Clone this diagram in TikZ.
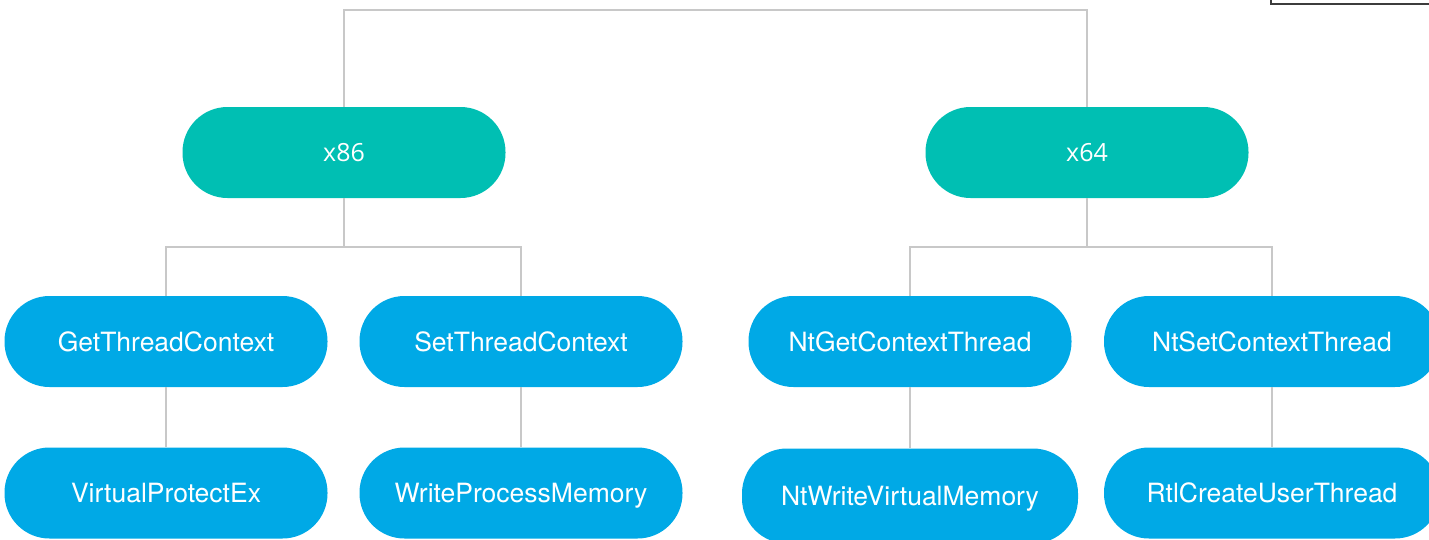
\documentclass[tikz,border=0pt]{standalone}
\usepackage{fontspec}
\newfontfamily\pillfont{TeX Gyre Heros}
\newfontfamily\archfont{Open Sans}
\definecolor{archteal}{RGB}{0,191,179}
\definecolor{callblue}{RGB}{0,169,230}
\definecolor{linkgrey}{RGB}{200,200,200}
\definecolor{framegrey}{RGB}{60,60,60}
\tikzset{
  pill/.style={rectangle, rounded corners=45pt, minimum width=323pt, minimum height=91pt,
    inner sep=0pt, text=white, text depth=0pt},
  archpill/.style={pill, fill=archteal, text height=18pt, font=\archfont\fontsize{25}{30}\selectfont},
  callpill/.style={pill, fill=callblue, text height=19pt, font=\pillfont\fontsize{26.5}{31}\selectfont},
  link/.style={draw=linkgrey, line width=2pt},
}
\begin{document}
\begin{tikzpicture}[x=1pt, y=-1pt]
  \useasboundingbox (0,0) rectangle (1429,539);
  \clip (0,0) rectangle (1429,539);

  % frame corner at the top right
  \draw[framegrey, line width=1.5pt] (1271,-10) rectangle (1445,4);

  % architecture nodes
  \node[archpill] (x86) at (344,152.5) {x86};
  \node[archpill] (x64) at (1087,152.5) {x64};

  % API calls, first row
  \node[callpill] (gtc) at (166,341.5) {GetThreadContext};
  \node[callpill] (stc) at (521,341.5) {SetThreadContext};
  \node[callpill] (ngc) at (910,341.5) {NtGetContextThread};
  \node[callpill, minimum width=336pt] (nsc) at (1272,341.5) {NtSetContextThread};

  % API calls, second row
  \node[callpill] (vpe) at (166,493) {VirtualProtectEx};
  \node[callpill] (wpm) at (521,493) {WriteProcessMemory};
  \node[callpill, minimum width=336pt, minimum height=95pt] (nwv) at (910,496) {NtWriteVirtualMemory};
  \node[callpill, minimum width=336pt] (rcu) at (1272,493) {RtlCreateUserThread};

  % connectors
  \draw[link] (x86.north) -- ++(0,-97) coordinate (topl) -| (x64.north);
  \draw[link] (x86.south) -- ++(0,49) coordinate (j86);
  \draw[link] (gtc.north) |- (j86) -| (stc.north);
  \draw[link] (x64.south) -- ++(0,49) coordinate (j64);
  \draw[link] (ngc.north) |- (j64) -| (nsc.north);
  \draw[link] (gtc.south) -- (vpe.north);
  \draw[link] (stc.south) -- (wpm.north);
  \draw[link] (ngc.south) -- (nwv.north);
  \draw[link] (nsc.south) -- (rcu.north);
\end{tikzpicture}
\end{document}
